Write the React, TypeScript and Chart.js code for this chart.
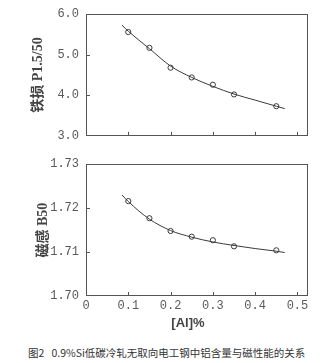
import React, { useEffect, useRef } from "react";
import { Chart, registerables } from "chart.js";

Chart.register(...registerables);

// Measured points
const alContent = [0.1, 0.15, 0.2, 0.25, 0.3, 0.35, 0.45];
const ironLoss = [5.56, 5.17, 4.68, 4.44, 4.26, 4.02, 3.73];
const inductance = [1.7216, 1.7177, 1.7148, 1.7135, 1.7127, 1.7113, 1.7104];

// Fitted curves
const curveX = [0.085, 0.1, 0.15, 0.2, 0.25, 0.3, 0.35, 0.4, 0.45, 0.47];
const ironLossCurve = [5.73, 5.58, 5.15, 4.72, 4.44, 4.22, 4.03, 3.88, 3.73, 3.67];
const inductanceCurve = [1.723, 1.7215, 1.7175, 1.7149, 1.7134, 1.7123, 1.7115, 1.7108, 1.7102, 1.7099];

const xTicks = [0, 0.1, 0.2, 0.3, 0.4, 0.5];
const ironLossTicks = [3.0, 4.0, 5.0, 6.0];
const inductanceTicks = [1.7, 1.71, 1.72, 1.73];

const TEXT = "#5a5a5a";
const LINE = "#3a3a3a";
const AXIS = "#555";
const MONO = "'Liberation Mono', 'DejaVu Sans Mono', monospace";
const TITLE_FONT = "'Liberation Serif', 'Noto Sans CJK SC', serif";

const framePlugin = {
  id: "frame",
  afterDatasetsDraw(chart: any) {
    const { ctx, chartArea: a, scales } = chart;
    ctx.save();
    ctx.strokeStyle = AXIS;
    ctx.lineWidth = 1;
    ctx.strokeRect(Math.round(a.left) + 0.5, Math.round(a.top) + 0.5, Math.round(a.width) - 1, Math.round(a.height) - 1);
    ctx.beginPath();
    for (const v of xTicks.slice(1)) {
      const px = Math.round(scales.x.getPixelForValue(v)) + 0.5;
      ctx.moveTo(px, a.bottom);
      ctx.lineTo(px, a.bottom - 4);
    }
    const yt = scales.y.ticks;
    for (let i = 1; i < yt.length - 1; i++) {
      const py = Math.round(scales.y.getPixelForValue(yt[i].value)) + 0.5;
      ctx.moveTo(a.left, py);
      ctx.lineTo(a.left + 4, py);
    }
    ctx.stroke();
    ctx.restore();
  },
};

function makeDatasets(points: number[], curve: number[]) {
  return [
    {
      label: "fit",
      data: curveX.map((x, i) => ({ x, y: curve[i] })),
      showLine: true,
      borderColor: LINE,
      borderWidth: 1,
      pointRadius: 0,
      tension: 0.4,
      cubicInterpolationMode: "monotone" as const,
      fill: false,
    },
    {
      label: "data",
      data: alContent.map((x, i) => ({ x, y: points[i] })),
      showLine: false,
      pointRadius: 2.6,
      pointBackgroundColor: "#fff",
      pointBorderColor: LINE,
      pointBorderWidth: 1,
    },
  ];
}

function yScale(min: number, max: number, step: number, digits: number, title: string, width: number, ticks: number[]) {
  return {
    type: "linear" as const,
    min,
    max,
    afterFit: (s: any) => {
      s.width = width;
    },
    afterBuildTicks: (s: any) => {
      s.ticks = ticks.map((v) => ({ value: v }));
    },
    grid: { display: false, drawTicks: false },
    border: { display: false },
    ticks: {
      stepSize: step,
      padding: 7,
      color: TEXT,
      font: { family: MONO, size: 12 },
      callback: (v: any) => Number(v).toFixed(digits),
    },
    title: {
      display: true,
      text: title,
      color: "#444",
      font: { family: TITLE_FONT, size: 14, weight: "bold" as const },
      padding: 0,
    },
  };
}

export default function App() {
  const topRef = useRef<HTMLCanvasElement>(null);
  const botRef = useRef<HTMLCanvasElement>(null);

  useEffect(() => {
    const top = new Chart(topRef.current!, {
      type: "scatter",
      data: { datasets: makeDatasets(ironLoss, ironLossCurve) as any },
      options: {
        animation: false,
        responsive: false,
        layout: { padding: { left: 30, right: 12, top: 11, bottom: 4 } },
        plugins: { legend: { display: false }, tooltip: { enabled: false } },
        scales: {
          x: {
            type: "linear",
            min: 0,
            max: 0.525,
            display: false,
          },
          y: yScale(3, 6, 1, 1, "铁损 P1.5/50", 56, ironLossTicks) as any,
        },
      },
      plugins: [framePlugin],
    });

    const bot = new Chart(botRef.current!, {
      type: "scatter",
      data: { datasets: makeDatasets(inductance, inductanceCurve) as any },
      options: {
        animation: false,
        responsive: false,
        layout: { padding: { left: 35, right: 12, top: 11, bottom: 0 } },
        plugins: { legend: { display: false }, tooltip: { enabled: false } },
        scales: {
          x: {
            type: "linear",
            min: 0,
            max: 0.525,
            afterFit: (s: any) => {
              s.height = 44;
            },
            afterBuildTicks: (s: any) => {
              s.ticks = xTicks.map((v) => ({ value: v }));
            },
            grid: { display: false, drawTicks: false },
            border: { display: false },
            ticks: {
              padding: 3,
              color: TEXT,
              maxRotation: 0,
              font: { family: MONO, size: 12 },
              callback: (v: any) => (Number(v) === 0 ? "0" : Number(v).toFixed(1)),
            },
            title: {
              display: true,
              text: "[Al]%\u00a0\u00a0\u00a0\u00a0\u00a0",
              color: "#444",
              font: { family: "'Liberation Sans', 'DejaVu Sans', sans-serif", size: 13, weight: "bold" as const },
              padding: { top: 0, bottom: 9 },
            },
          },
          y: yScale(1.7, 1.73, 0.01, 2, "磁感 B50", 51, inductanceTicks) as any,
        },
      },
      plugins: [framePlugin],
    });

    return () => {
      top.destroy();
      bot.destroy();
    };
  }, []);

  return (
    <div style={{ position: "absolute", left: 0, top: 0, width: 320, height: 363, background: "#fff" }}>
      <canvas ref={topRef} width={320} height={150} style={{ position: "absolute", left: 0, top: 0 }} />
      <canvas ref={botRef} width={320} height={190} style={{ position: "absolute", left: 0, top: 150 }} />
      <div
        style={{
          position: "absolute",
          left: 28,
          top: 346,
          fontFamily: "'Noto Sans CJK SC', sans-serif",
          fontSize: 10.5,
          lineHeight: "14px",
          color: "#333",
          whiteSpace: "nowrap",
        }}
      >
        图2&nbsp;&nbsp;&nbsp;0.9%Si低碳冷轧无取向电工钢中铝含量与磁性能的关系
      </div>
    </div>
  );
}
